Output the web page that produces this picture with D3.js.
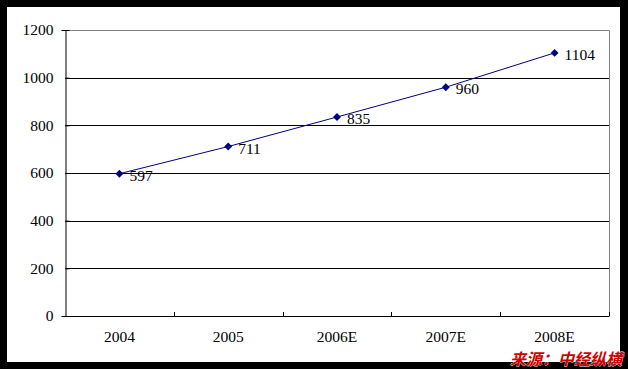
<!DOCTYPE html>
<html><head><meta charset="utf-8">
<script src="https://cdn.jsdelivr.net/npm/d3@7"></script>
<style>body{margin:0;background:#000;}svg{display:block;}</style>
</head><body><svg id="c" width="628" height="369"></svg>
<script>
const categories = ["2004","2005","2006E","2007E","2008E"];
const values = [597, 711, 835, 960, 1104];
const yTicks = [0,200,400,600,800,1000,1200];
const source = "来源：中经纵横";

const svg = d3.select("#c");
svg.append("rect").attr("x",0).attr("y",0).attr("width",628).attr("height",369).attr("fill","#000");
svg.append("rect").attr("x",7).attr("y",7).attr("width",613).attr("height",355).attr("fill","#fff");

const L=65,R=609,T=30,B=316;
const x = d3.scaleBand().domain(categories).range([L,R]);
const y = d3.scaleLinear().domain([0,1200]).range([B,T]);
const font = "'Liberation Serif','DejaVu Serif',serif";
const fs = 15.5;

// gridlines
svg.append("g").selectAll("line").data(yTicks.filter(t=>t>0&&t<1200)).join("line")
  .attr("x1",L).attr("x2",R).attr("y1",d=>Math.round(y(d))+0.5).attr("y2",d=>Math.round(y(d))+0.5)
  .attr("stroke","#000").attr("stroke-width",1);
// top/right border gray
svg.append("path").attr("d",`M${L},${T+0.5}H${R+0.5}V${B}`).attr("fill","none").attr("stroke","#808080");
// left axis
const yAxis = d3.axisLeft(y).tickValues(yTicks).tickSize(4).tickPadding(8).tickFormat(d3.format("d"));
const gy = svg.append("g").attr("transform",`translate(${L+0.5},0)`).call(yAxis);
gy.select(".domain").attr("stroke","#000");
gy.selectAll(".tick line").attr("stroke","#000").attr("x2",4);
gy.selectAll("text").attr("font-family",font).attr("font-size",fs).attr("fill","#000").attr("x",-12);
// bottom axis
svg.append("line").attr("x1",L).attr("x2",R+0.5).attr("y1",B+0.5).attr("y2",B+0.5).attr("stroke","#000");
const bounds = categories.map(c=>x(c)).concat([R]);
svg.append("g").selectAll("line").data(bounds.slice(1)).join("line")
  .attr("x1",d=>Math.round(d)+0.5).attr("x2",d=>Math.round(d)+0.5).attr("y1",B-4).attr("y2",B)
  .attr("stroke","#000");
svg.append("g").selectAll("text").data(categories).join("text")
  .attr("x",d=>x(d)+x.bandwidth()/2).attr("y",B+26).attr("text-anchor","middle")
  .attr("font-family",font).attr("font-size",fs).attr("fill","#000").text(d=>d);

// line
const pts = categories.map((c,i)=>[x(c)+x.bandwidth()/2, y(values[i])]);
svg.append("path").attr("d",d3.line()(pts)).attr("fill","none").attr("stroke","#000080").attr("stroke-width",1);
svg.append("g").selectAll("path").data(pts).join("path")
  .attr("d",d3.symbol(d3.symbolDiamond2,40)).attr("transform",d=>`translate(${d[0]},${d[1]})`)
  .attr("fill","#000080");
svg.append("g").selectAll("text").data(pts).join("text")
  .attr("x",d=>d[0]+10).attr("y",d=>d[1]+7).attr("font-family",font).attr("font-size",fs)
  .attr("fill","#000").text((d,i)=>values[i]);

// source
svg.append("text").attr("x",622).attr("y",365).attr("text-anchor","end")
  .attr("font-family","'Noto Sans CJK SC',sans-serif").attr("font-weight","bold").attr("font-style","italic")
  .attr("font-size",16).attr("fill","#d00000").attr("stroke","#fff").attr("stroke-width",0.6).attr("paint-order","stroke")
  .text(source);
</script></body></html>
